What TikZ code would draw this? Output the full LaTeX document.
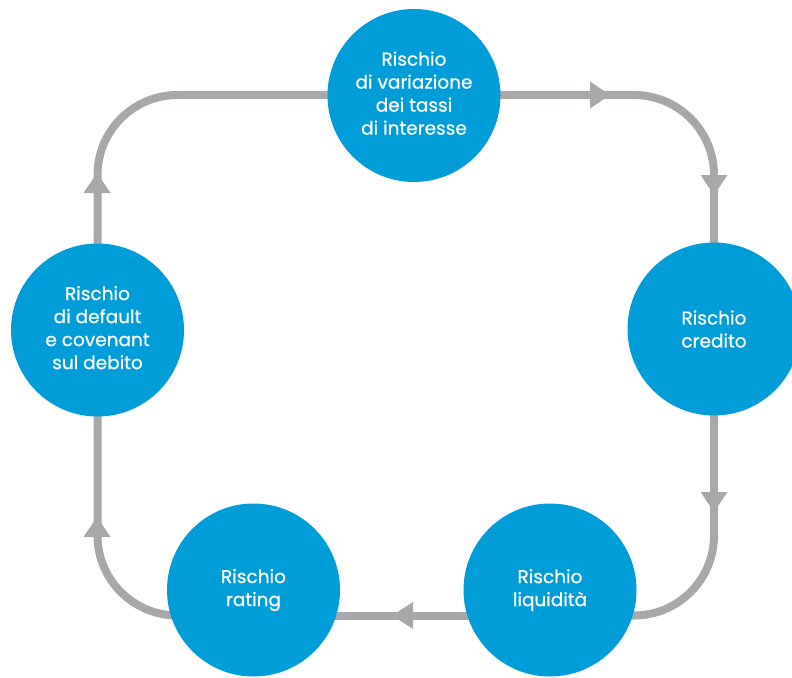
\documentclass[tikz,border=0pt]{standalone}
\usepackage{fontspec}
\setmainfont{Poppins}
\newfontfamily\lblfont{Poppins}[FakeBold=0.6]
\usetikzlibrary{backgrounds}
\definecolor{riskblue}{RGB}{0,157,217}
\definecolor{loopgray}{RGB}{167,168,170}
\newcommand\liftlines[1]{\raisebox{4bp}{\begin{tabular}{@{}c@{}}#1\end{tabular}}}
\tikzset{
  risk/.style={circle, fill=riskblue, minimum size=173bp, inner sep=0pt,
    text=white, align=center, font=\lblfont\fontsize{18.5bp}{23bp}\selectfont},
  loopline/.style={draw=loopgray, line width=8bp, rounded corners=80bp},
  tipfill/.style={fill=loopgray},
}
\begin{document}
\begin{tikzpicture}[x=1bp,y=-1bp]
\useasboundingbox (0,0) rectangle (792,678);
\node[risk] (top) at (414,95.5) {\liftlines{Rischio\\di variazione\\dei tassi\\di interesse}};
\node[risk] (cred) at (714,329) {Rischio\\credito};
\node[risk] (liq) at (550,590) {Rischio\\liquidità};
\node[risk] (rat) at (253.5,590) {Rischio\\rating};
\node[risk] (def) at (97.5,330) {\liftlines{Rischio\\di default\\e covenant\\sul debito}};
\coordinate (ytop) at (0,95);
\coordinate (ybot) at (0,615.5);
\begin{scope}[on background layer]
  \draw[loopline] (top.center |- ytop) -| (cred.center);
  \draw[loopline] (cred.center) |- (liq.center |- ybot);
  \draw[loopline] (liq.center |- ybot) -- (rat.center |- ybot);
  \draw[loopline] (rat.center |- ybot) -| (def.center);
  \draw[loopline] (def.center) |- (top.center |- ytop);
  \fill[tipfill] (610,95) -- (590,81.5) -- (590,108.5) -- cycle;
  \fill[tipfill] (714,195) -- (700.5,175) -- (727.5,175) -- cycle;
  \fill[tipfill] (714,512) -- (700.5,492) -- (727.5,492) -- cycle;
  \fill[tipfill] (392,615.5) -- (413,602) -- (413,629) -- cycle;
  \fill[tipfill] (97,517) -- (83.5,537) -- (110.5,537) -- cycle;
  \fill[tipfill] (97,173) -- (83.5,193) -- (110.5,193) -- cycle;
\end{scope}
\end{tikzpicture}
\end{document}
